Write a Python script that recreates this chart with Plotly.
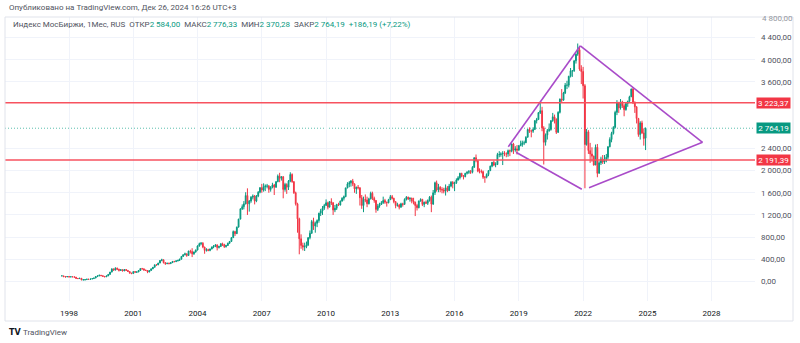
import plotly.graph_objects as go
import pandas as pd

# ---------------- DATA (monthly candles, Sep 1997 .. Dec 2024) ----------------
first_month = "1997-09-01"

open_ = [
    100, 101, 88, 82,                                                   # 1997 Sep-Dec
    90, 82, 85, 84, 78, 55, 52, 58, 28, 32, 34, 42,                     # 1998
    38, 45, 52, 62, 88, 100, 112, 104, 92, 84, 100, 128,                # 1999
    170, 225, 205, 240, 222, 200, 212, 190, 215, 200, 180, 150,         # 2000
    143, 178, 168, 172, 198, 232, 228, 205, 198, 170, 198, 228,         # 2001
    256, 300, 298, 332, 378, 392, 340, 322, 330, 322, 340, 362,         # 2002
    359, 372, 380, 402, 452, 482, 498, 468, 548, 540, 498, 532,         # 2003
    567, 640, 682, 690, 622, 560, 575, 560, 585, 622, 640, 660,         # 2004
    613, 630, 680, 668, 628, 650, 690, 722, 790, 900, 862, 980,         # 2005
    1125, 1310, 1350, 1400, 1550, 1400, 1450, 1520, 1540, 1450, 1540, 1610,  # 2006
    1692, 1650, 1710, 1720, 1720, 1660, 1700, 1740, 1700, 1800, 1900, 1860,  # 2007
    1889, 1660, 1750, 1700, 1810, 1930, 1800, 1600, 1400, 1130, 770, 650,    # 2008
    620, 630, 660, 790, 870, 1080, 1000, 1050, 1100, 1230, 1270, 1320,       # 2009
    1370, 1420, 1340, 1440, 1420, 1290, 1320, 1390, 1380, 1450, 1500, 1530,  # 2010
    1688, 1760, 1780, 1810, 1760, 1670, 1700, 1690, 1510, 1370, 1480, 1470,  # 2011
    1402, 1490, 1590, 1500, 1460, 1300, 1360, 1390, 1420, 1460, 1430, 1420,  # 2012
    1475, 1530, 1500, 1440, 1370, 1380, 1340, 1400, 1390, 1480, 1520, 1490,  # 2013
    1504, 1450, 1430, 1370, 1330, 1450, 1480, 1390, 1430, 1410, 1460, 1520,  # 2014
    1397, 1600, 1780, 1650, 1700, 1660, 1650, 1630, 1690, 1640, 1720, 1790,  # 2015
    1761, 1780, 1830, 1870, 1950, 1900, 1890, 1950, 1970, 1980, 1970, 2060,  # 2016
    2232, 2180, 1990, 1990, 1980, 1880, 1880, 1930, 2000, 2080, 2150, 2100,  # 2017
    2109, 2290, 2290, 2300, 2310, 2300, 2300, 2360, 2350, 2480, 2370, 2390,  # 2018
    2369, 2450, 2470, 2500, 2500, 2600, 2740, 2710, 2710, 2740, 2900, 2920,  # 2019
    3046, 3080, 2770, 2510, 2640, 2720, 2740, 2900, 2970, 2930, 2690, 3050,  # 2020
    3289, 3270, 3400, 3540, 3540, 3700, 3800, 3800, 3980, 4100, 4180, 3830,  # 2021
    3787, 3530, 2470, 2700, 2360, 2300, 2260, 2100, 2420, 1950, 2140, 2210,  # 2022
    2154, 2200, 2240, 2430, 2560, 2670, 2780, 3050, 3220, 3130, 3240, 3170,  # 2023
    3099, 3210, 3250, 3330, 3470, 3220, 3150, 2940, 2650, 2860, 2680, 2584.00,  # 2024
]

close = [
    101, 88, 82, 90,
    82, 85, 84, 78, 55, 52, 58, 28, 32, 34, 42, 38,
    45, 52, 62, 88, 100, 112, 104, 92, 84, 100, 128, 170,
    225, 205, 240, 222, 200, 212, 190, 215, 200, 180, 150, 143,
    178, 168, 172, 198, 232, 228, 205, 198, 170, 198, 228, 256,
    300, 298, 332, 378, 392, 340, 322, 330, 322, 340, 362, 359,
    372, 380, 402, 452, 482, 498, 468, 548, 540, 498, 532, 567,
    640, 682, 690, 622, 560, 575, 560, 585, 622, 640, 660, 613,
    630, 680, 668, 628, 650, 690, 722, 790, 900, 862, 980, 1125,
    1310, 1350, 1400, 1550, 1400, 1450, 1520, 1540, 1450, 1540, 1610, 1692,
    1650, 1710, 1720, 1720, 1660, 1700, 1740, 1700, 1800, 1900, 1860, 1889,
    1660, 1750, 1700, 1810, 1930, 1800, 1600, 1400, 1130, 770, 650, 620,
    630, 660, 790, 870, 1080, 1000, 1050, 1100, 1230, 1270, 1320, 1370,
    1420, 1340, 1440, 1420, 1290, 1320, 1390, 1380, 1450, 1500, 1530, 1688,
    1760, 1780, 1810, 1760, 1670, 1700, 1690, 1510, 1370, 1480, 1470, 1402,
    1490, 1590, 1500, 1460, 1300, 1360, 1390, 1420, 1460, 1430, 1420, 1475,
    1530, 1500, 1440, 1370, 1380, 1340, 1400, 1390, 1480, 1520, 1490, 1504,
    1450, 1430, 1370, 1330, 1450, 1480, 1390, 1430, 1410, 1460, 1520, 1397,
    1600, 1780, 1650, 1700, 1660, 1650, 1630, 1690, 1640, 1720, 1790, 1761,
    1780, 1830, 1870, 1950, 1900, 1890, 1950, 1970, 1980, 1970, 2060, 2232,
    2180, 1990, 1990, 1980, 1880, 1880, 1930, 2000, 2080, 2150, 2100, 2109,
    2290, 2290, 2300, 2310, 2300, 2300, 2360, 2350, 2480, 2370, 2390, 2369,
    2450, 2470, 2500, 2500, 2600, 2740, 2710, 2710, 2740, 2900, 2920, 3046,
    3080, 2770, 2510, 2640, 2720, 2740, 2900, 2970, 2930, 2690, 3050, 3289,
    3270, 3400, 3540, 3540, 3700, 3800, 3800, 3980, 4100, 4180, 3830, 3787,
    3530, 2470, 2700, 2360, 2300, 2260, 2100, 2420, 1950, 2140, 2210, 2154,
    2200, 2240, 2430, 2560, 2670, 2780, 3050, 3220, 3130, 3240, 3170, 3099,
    3210, 3250, 3330, 3470, 3220, 3150, 2940, 2650, 2860, 2680, 2578.00, 2764.19,
]

high = [
    108, 104, 92, 95,
    95, 92, 92, 88, 80, 62, 66, 60, 38, 40, 46, 46,
    50, 56, 66, 92, 110, 122, 118, 108, 96, 104, 132, 172,
    240, 236, 256, 250, 228, 222, 218, 222, 222, 205, 182, 158,
    182, 186, 180, 205, 240, 245, 232, 214, 200, 202, 232, 260,
    305, 312, 336, 386, 410, 395, 350, 336, 340, 345, 368, 372,
    380, 392, 410, 458, 490, 520, 505, 555, 572, 600, 540, 575,
    652, 700, 712, 710, 625, 600, 590, 595, 630, 655, 670, 668,
    645, 690, 700, 680, 660, 700, 730, 800, 920, 915, 990, 1130,
    1320, 1390, 1450, 1610, 1680, 1470, 1540, 1570, 1560, 1560, 1630, 1700,
    1760, 1770, 1750, 1760, 1740, 1720, 1780, 1760, 1810, 1930, 1960, 1900,
    1900, 1780, 1770, 1830, 1970, 1950, 1810, 1620, 1420, 1150, 850, 700,
    700, 720, 800, 920, 1110, 1150, 1080, 1120, 1240, 1310, 1360, 1400,
    1480, 1440, 1450, 1500, 1430, 1380, 1400, 1420, 1460, 1520, 1550, 1690,
    1790, 1810, 1830, 1850, 1770, 1710, 1740, 1700, 1560, 1530, 1570, 1530,
    1510, 1620, 1620, 1530, 1470, 1400, 1420, 1450, 1530, 1490, 1440, 1490,
    1560, 1560, 1510, 1450, 1420, 1400, 1420, 1420, 1500, 1540, 1530, 1515,
    1510, 1510, 1440, 1400, 1460, 1500, 1490, 1440, 1460, 1480, 1540, 1550,
    1650, 1800, 1820, 1760, 1720, 1700, 1690, 1750, 1720, 1760, 1810, 1810,
    1800, 1860, 1900, 1960, 1960, 1920, 1960, 1990, 2010, 2010, 2080, 2240,
    2290, 2190, 2040, 2020, 2000, 1900, 1950, 2000, 2090, 2150, 2180, 2150,
    2320, 2350, 2330, 2350, 2350, 2330, 2380, 2380, 2490, 2500, 2440, 2460,
    2460, 2540, 2540, 2540, 2620, 2750, 2780, 2740, 2780, 2910, 2950, 3050,
    3220, 3150, 2800, 2670, 2750, 2850, 2910, 3040, 3010, 2940, 3070, 3300,
    3470, 3420, 3580, 3620, 3710, 3850, 3810, 3990, 4110, 4292, 4230, 3900,
    3870, 3560, 2750, 2730, 2500, 2420, 2270, 2470, 2480, 2170, 2250, 2280,
    2280, 2300, 2440, 2600, 2700, 2800, 3080, 3270, 3240, 3290, 3260, 3200,
    3220, 3260, 3350, 3480, 3501, 3250, 3160, 2950, 2890, 2900, 2760, 2776.33,
]

low = [
    98, 78, 74, 80,
    76, 78, 80, 74, 50, 44, 50, 22, 20, 18, 32, 34,
    36, 42, 50, 60, 84, 96, 98, 86, 78, 82, 98, 124,
    165, 195, 200, 205, 180, 190, 182, 188, 195, 175, 145, 132,
    140, 160, 155, 168, 195, 215, 196, 190, 150, 168, 196, 222,
    252, 285, 296, 330, 365, 325, 300, 312, 310, 318, 335, 345,
    350, 362, 370, 398, 445, 470, 445, 465, 505, 440, 480, 520,
    560, 628, 655, 600, 500, 540, 545, 545, 580, 600, 620, 560,
    595, 625, 640, 605, 612, 640, 680, 715, 790, 820, 860, 975,
    1120, 1290, 1300, 1390, 1200, 1260, 1420, 1480, 1390, 1430, 1520, 1590,
    1600, 1620, 1630, 1680, 1600, 1620, 1680, 1560, 1690, 1790, 1790, 1820,
    1500, 1620, 1580, 1650, 1790, 1780, 1580, 1370, 880, 490, 590, 560,
    550, 600, 640, 760, 860, 930, 880, 980, 1060, 1180, 1200, 1290,
    1370, 1300, 1340, 1380, 1200, 1250, 1290, 1360, 1370, 1440, 1460, 1520,
    1680, 1700, 1710, 1720, 1600, 1580, 1660, 1370, 1310, 1250, 1430, 1340,
    1390, 1480, 1470, 1420, 1240, 1270, 1330, 1380, 1400, 1400, 1350, 1410,
    1470, 1480, 1410, 1320, 1350, 1300, 1330, 1350, 1390, 1460, 1470, 1440,
    1410, 1390, 1180, 1280, 1320, 1440, 1360, 1340, 1400, 1380, 1440, 1250,
    1380, 1560, 1620, 1610, 1610, 1590, 1590, 1550, 1610, 1630, 1700, 1680,
    1630, 1760, 1820, 1840, 1880, 1840, 1880, 1930, 1940, 1940, 1950, 2050,
    2150, 1970, 1950, 1950, 1850, 1780, 1860, 1900, 1990, 2060, 2080, 2060,
    2100, 2240, 2250, 2100, 2260, 2240, 2250, 2260, 2330, 2300, 2340, 2290,
    2360, 2440, 2430, 2460, 2500, 2600, 2680, 2600, 2680, 2740, 2850, 2920,
    3020, 2710, 2110, 2450, 2560, 2700, 2720, 2880, 2850, 2660, 2680, 3030,
    3230, 3260, 3380, 3470, 3500, 3680, 3690, 3780, 3930, 4070, 3800, 3560,
    3300, 1681, 2450, 2300, 2140, 2160, 2090, 2100, 1880, 1950, 2100, 2120,
    2120, 2150, 2200, 2420, 2510, 2650, 2760, 3000, 3040, 3100, 3130, 2980,
    3080, 3150, 3240, 3330, 3200, 3040, 2850, 2610, 2560, 2660, 2450, 2370.28,
]

# horizontal levels drawn by the author
level_upper = 3223.37
level_lower = 2191.39

# purple "diamond" trend lines (date, value) pairs
trend_lines = [
    (["2018-07-05", "2021-11-15"], [2431, 4250]),   # rising edge to the 2021 top
    (["2021-11-15", "2027-07-30"], [4250, 2510]),   # falling edge to right apex
    (["2018-11-13", "2021-12-10"], [2330, 1663]),   # falling edge to 2022 low
    (["2022-04-12", "2027-07-30"], [1692, 2510]),   # rising edge to right apex
]

y_ticks = [0, 400, 800, 1200, 1600, 2000, 2400, 3600, 4000, 4400]
top_tick = 4800  # partially visible label at the very top of the price scale

# ---------------- STYLE ----------------
UP = "#089981"
DOWN = "#F23645"
LEVEL = "#F7525F"
PURPLE = "#A94BC9"
GRID = "#F0F3FA"
TEXT = "#131722"
FONT = "Roboto, 'Open Sans', sans-serif"

dates = pd.date_range(first_month, periods=len(close), freq="MS")


def fmt(v):
    return f"{v:,.2f}".replace(",", "\u00a0").replace(".", ",")


fig = go.Figure()

fig.add_trace(go.Candlestick(
    x=dates, open=open_, high=high, low=low, close=close,
    increasing=dict(line=dict(color=UP, width=1), fillcolor=UP),
    decreasing=dict(line=dict(color=DOWN, width=1), fillcolor=DOWN),
    whiskerwidth=0, showlegend=False, hoverinfo="skip",
))

for xs, ys in trend_lines:
    fig.add_trace(go.Scatter(x=xs, y=ys, mode="lines",
                             line=dict(color=PURPLE, width=1.6),
                             showlegend=False, hoverinfo="skip"))

shapes = [
    dict(type="line", xref="paper", x0=0, x1=1, yref="y", y0=close[-1], y1=close[-1],
         line=dict(color="#5BBFAE", width=1, dash="1px,2px"), layer="below"),
    dict(type="line", xref="paper", x0=0, x1=1, yref="y", y0=level_upper, y1=level_upper,
         line=dict(color=LEVEL, width=1.6), layer="above"),
    dict(type="line", xref="paper", x0=0, x1=1, yref="y", y0=level_lower, y1=level_lower,
         line=dict(color=LEVEL, width=1.6), layer="above"),
    # outer frame
    dict(type="rect", xref="paper", yref="paper", x0=0, x1=(793 - 5) / 750,
         y0=(301 - 321) / 284, y1=1, line=dict(color="#E0E3EB", width=1),
         fillcolor="rgba(0,0,0,0)", layer="above"),
]

last_change = close[-1] - close[-2]
pct = last_change / close[-2] * 100
g = lambda s: f"<span style='color:{UP}'>{s}</span>"
legend_text = ("Индекс МосБиржи, 1Мес, RUS\u00a0\u00a0"
               f"ОТКР{g(fmt(open_[-1]))}\u00a0\u00a0"
               f"МАКС{g(fmt(high[-1]))}\u00a0\u00a0"
               f"МИН{g(fmt(low[-1]))}\u00a0\u00a0"
               f"ЗАКР{g(fmt(close[-1]))}\u00a0\u00a0"
               + g(f"+{fmt(last_change)} (+{pct:.2f}%)".replace(".", ",")))

annotations = [
    dict(xref="paper", yref="paper", x=(7 - 5) / 750, y=(301 - 7) / 284,
         xanchor="left", yanchor="middle", showarrow=False,
         text="Опубликовано на TradingView.com, Дек 26, 2024 16:26 UTC+3",
         font=dict(size=8, color="#50535E", family=FONT)),
    dict(xref="paper", yref="paper", x=(11 - 5) / 750, y=(301 - 25) / 284,
         xanchor="left", yanchor="middle", showarrow=False,
         text=legend_text, font=dict(size=8, color="#50535E", family=FONT)),
    dict(xref="paper", yref="paper", x=(7 - 5) / 750, y=(301 - 332) / 284,
         xanchor="left", yanchor="middle", showarrow=False,
         text="<b>TV</b>", font=dict(size=8, color=TEXT, family="DejaVu Sans")),
    dict(xref="paper", yref="paper", x=(21 - 5) / 750, y=(301 - 332) / 284,
         xanchor="left", yanchor="middle", showarrow=False,
         text="TradingView", font=dict(size=8, color="#50535E", family=FONT)),
    dict(xref="paper", yref="paper", x=1, y=(301 - 18) / 284, xanchor="left", yanchor="middle",
         xshift=5, showarrow=False, text=fmt(top_tick),
         font=dict(size=8, color="#9598A1", family=FONT)),
]
for val, col in [(level_upper, DOWN), (close[-1], UP), (level_lower, DOWN)]:
    annotations.append(dict(
        xref="paper", yref="y", x=1, y=val, xanchor="left", yanchor="middle",
        xshift=1, showarrow=False, text=fmt(val), bgcolor=col, width=33, height=10,
        align="center", borderpad=0, font=dict(size=8, color="white", family=FONT)))

fig.update_layout(
    width=800, height=343,
    margin=dict(l=5, r=45, t=17, b=42),
    paper_bgcolor="white", plot_bgcolor="white",
    separators=",\u00a0",
    shapes=shapes, annotations=annotations,
    xaxis=dict(
        type="date", range=["1995-01-05", "2030-01-10"],
        rangeslider=dict(visible=False),
        tickformat="%Y", dtick="M36", tick0="1998-01-01",
        showgrid=True, gridcolor=GRID, gridwidth=1,
        zeroline=False, showline=False, ticks="",
        ticklabelstandoff=6,
        tickfont=dict(size=8, color=TEXT, family=FONT),
    ),
    yaxis=dict(
        side="right", range=[-352, 4770],
        tickvals=y_ticks, tickformat=",.2f",
        showgrid=True, gridcolor=GRID, gridwidth=1,
        zeroline=False, showline=False, ticks="",
        ticklabelstandoff=5,
        tickfont=dict(size=8, color="#50535E", family=FONT),
    ),
)

fig.write_html("out.html")
